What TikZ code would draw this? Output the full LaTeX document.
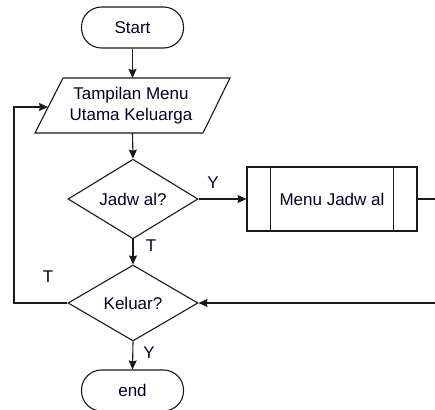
\documentclass[tikz,border=0pt]{standalone}
\usepackage{fontspec}
\setmainfont{Liberation Sans}
\usetikzlibrary{shapes.geometric,arrows.meta,calc}
\begin{document}
\begin{tikzpicture}[x=1pt,y=-1pt,
  every node/.style={font=\fontsize{17}{21}\selectfont, text=black!85!blue},
  line/.style={draw=black!90, line width=1.1pt},
  arr/.style={line, -{Stealth[length=9pt,width=8pt,inset=1pt]}},
  term/.style={line, rounded corners=20pt, minimum width=102pt, minimum height=41pt, fill=white, inner sep=0pt},
  dec/.style={line, diamond, minimum width=130pt, minimum height=76pt, inner sep=0pt, fill=white},
  proc/.style={line, rectangle, minimum width=170pt, minimum height=64pt, fill=white, inner sep=0pt},
  lbl/.style={font=\fontsize{17}{21}\selectfont}
]
\useasboundingbox (0,0) rectangle (435,409);
\clip (0,0) rectangle (435,409);
\fill[white] (0,0) rectangle (435,409);

\node[term] (start) at (132.5,27.5) {Start};

% parallelogram (input/output)
\coordinate (dispTL) at (63,78);
\coordinate (dispTR) at (230,78);
\coordinate (dispBR) at (203,133);
\coordinate (dispBL) at (35,133);
\coordinate (dispT) at (132.5,78);
\coordinate (dispB) at (132.5,133);
\coordinate (dispL) at (48,107);
\draw[line, fill=white] (dispTL) -- (dispTR) -- (dispBR) -- (dispBL) -- cycle;
\node[align=center, inner sep=0pt] (disp) at (131,106) {Tampilan Menu\\Utama Keluarga};

\node[dec] (jad) at (133,199) {Jadw al?};
\node[proc] (menu) at (332,199) {Menu Jadw al};
\draw[line] ($(menu.north west)+(24,0)$) -- ($(menu.south west)+(24,0)$);
\draw[line] ($(menu.north east)+(-24,0)$) -- ($(menu.south east)+(-24,0)$);

\node[dec] (kel) at (133,303) {Keluar?};
\node[term] (end) at (132.5,390.5) {end};

\coordinate (rightout) at (450,199);
\coordinate (leftout) at (14,303);

\draw[arr] (start.south) -- (dispT);
\draw[arr] (dispB) -- (jad.north);
\draw[arr] (jad.east) -- (menu.west);
\draw[arr] (menu.east) -- (rightout) |- (kel.east);
\draw[arr] (jad.south) -- (kel.north);
\draw[arr] (kel.west) -- (leftout) |- (dispL);
\draw[arr] (kel.south) -- (end.north);

\node[lbl] (ly1) at (213,183) {Y};
\node[lbl] (lt1) at (151,246) {T};
\node[lbl] (lt2) at (48,277) {T};
\node[lbl] (ly2) at (149,353) {Y};
\end{tikzpicture}
\end{document}
